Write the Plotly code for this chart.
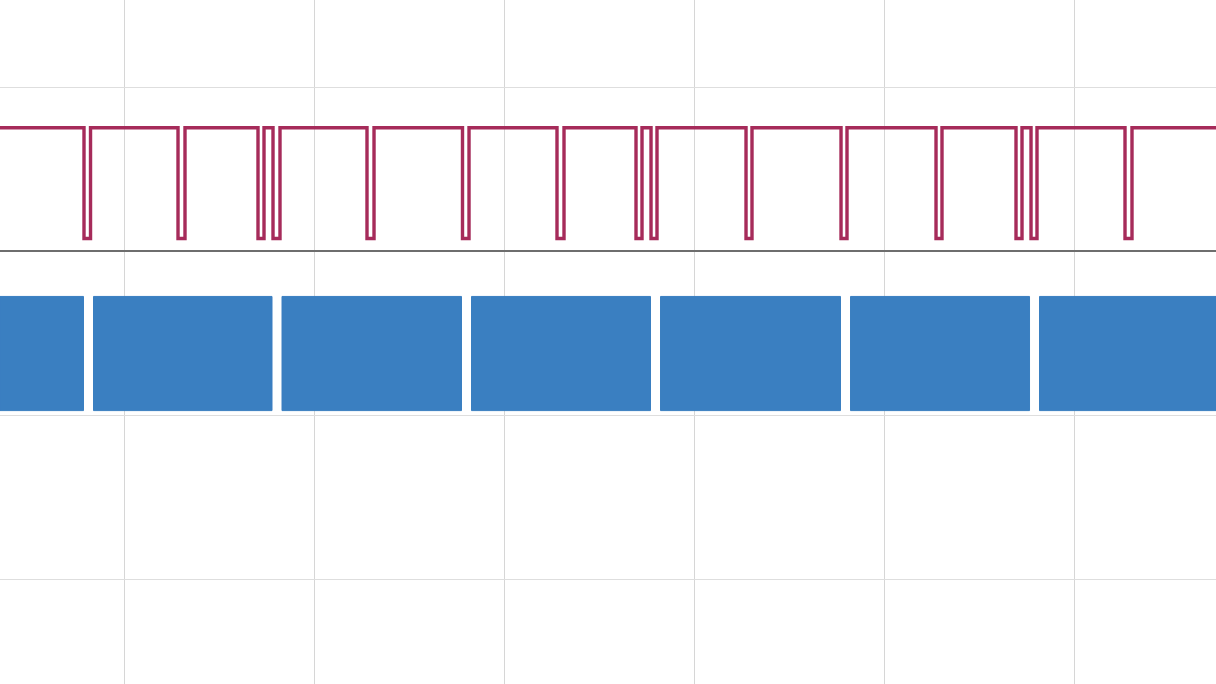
import plotly.graph_objects as go

# Time axis (ms) and signal levels
x_range = [3.447, 67.447]
y_range = [-2.640, 1.5305]

# Digital (magenta) signal: high level, low level and dip edges
dig_high = 0.752
dig_low = 0.076
dip_down = [7.868, 12.816, 17.026, 17.816, 22.763, 27.789, 32.763, 36.921,
            37.711, 42.711, 47.711, 52.711, 56.921, 57.711, 62.658]
dip_up = [8.211, 13.184, 17.342, 18.184, 23.132, 28.132, 33.132, 37.237,
          38.026, 43.026, 48.026, 53.026, 57.237, 58.026, 63.026]

# Analog (blue) oscillating band: envelope and gaps
band_top = -0.277
band_bottom = -0.973
gap_start = [7.842, 17.763, 27.737, 37.684, 47.684, 57.632]
gap_end = [8.368, 18.289, 28.263, 38.211, 48.211, 58.158]

MAGENTA = "#a62b5a"
BLUE = "#3a7fc1"

fig = go.Figure()

# blue band segments
seg_starts = [x_range[0]] + gap_end
seg_ends = gap_start + [x_range[1]]
for s, e in zip(seg_starts, seg_ends):
    fig.add_trace(go.Scatter(
        x=[s, e, e, s, s],
        y=[band_bottom, band_bottom, band_top, band_top, band_bottom],
        mode="lines", fill="toself", fillcolor=BLUE,
        line=dict(color=BLUE, width=1), hoverinfo="skip", showlegend=False))

# magenta digital line
xs = [x_range[0]]
ys = [dig_high]
for d, u in zip(dip_down, dip_up):
    xs += [d, d, u, u]
    ys += [dig_high, dig_low, dig_low, dig_high]
xs.append(x_range[1])
ys.append(dig_high)
fig.add_trace(go.Scatter(x=xs, y=ys, mode="lines",
                         line=dict(color=MAGENTA, width=3.4),
                         hoverinfo="skip", showlegend=False))

fig.update_layout(
    width=1216, height=684,
    margin=dict(l=0, r=0, t=0, b=0),
    paper_bgcolor="white", plot_bgcolor="white",
    showlegend=False,
    xaxis=dict(range=x_range, tick0=0, dtick=10, showticklabels=False,
               showgrid=True, gridcolor="#d6d6d6", gridwidth=1,
               zeroline=False, showline=False, ticks=""),
    yaxis=dict(range=y_range, tick0=0, dtick=1, showticklabels=False,
               showgrid=True, gridcolor="#dedede", gridwidth=1,
               zeroline=True, zerolinecolor="#6e6e6e", zerolinewidth=1.5,
               showline=False, ticks=""),
)

fig.write_html("out.html",
               config={"displayModeBar": False, "staticPlot": True},
               post_script="document.body.style.margin='0';"
                           "document.body.style.overflow='hidden';")
